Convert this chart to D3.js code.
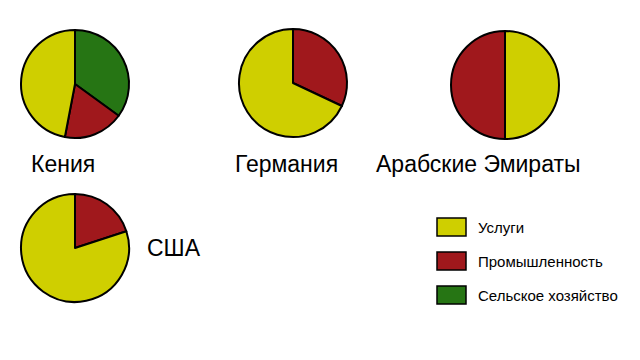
<!DOCTYPE html>
<html>
<head>
<meta charset="utf-8">
<script src="https://cdn.jsdelivr.net/npm/d3@7"></script>
<style>
  body { margin: 0; background: #fff; }
  svg { font-family: "Liberation Sans", Arial, sans-serif; }
</style>
</head>
<body>
<svg width="640" height="360"></svg>
<script>
const countries = ["Кения", "Германия", "Арабские Эмираты", "США"];
const sectors = ["Сельское хозяйство", "Промышленность", "Услуги"];
const agriculture = [35, 0, 0, 0];
const industry = [18, 32, 50, 20];
const services = [47, 68, 50, 80];
const legendOrder = ["Услуги", "Промышленность", "Сельское хозяйство"];

const svg = d3.select("svg");

const radius = 54;

// where each pie sits, its label, and the angle its first slice starts at
const layout = [
    {cx: 75,  cy: 84,  lx: 31,  ly: 172, start: 0},
    {cx: 293, cy: 83,  lx: 235, ly: 172, start: 0},
    {cx: 505, cy: 85,  lx: 376, ly: 172, start: Math.PI},
    {cx: 75,  cy: 248, lx: 147, ly: 256, start: 0}
];

const colorScale = d3.scaleOrdinal()
    .domain(sectors)
    .range(["#267514", "#a0181c", "#cfcf00"]);

const arcGen = d3.arc().innerRadius(0).outerRadius(radius);

countries.forEach((name, i) => {
    const pos = layout[i];
    const values = [agriculture[i], industry[i], services[i]];
    const pie = d3.pie().sort(null)
        .startAngle(pos.start)
        .endAngle(pos.start + 2 * Math.PI);

    const g = svg.append("g")
        .attr("transform", "translate(" + pos.cx + "," + pos.cy + ")");

    g.selectAll("path")
        .data(pie(values).filter(d => d.value > 0))
        .enter().append("path")
        .attr("d", arcGen)
        .attr("fill", d => colorScale(sectors[d.index]))
        .attr("stroke", "#000")
        .attr("stroke-width", 2)
        .attr("stroke-linejoin", "round");

    svg.append("text")
        .attr("x", pos.lx)
        .attr("y", pos.ly)
        .attr("font-size", 23)
        .attr("fill", "#000")
        .text(name);
});

// legend
const legendG = svg.append("g")
    .attr("transform", "translate(437, 218)");

const legendY = d3.scalePoint().domain(legendOrder).range([0, 68]);

legendG.selectAll("rect")
    .data(legendOrder)
    .enter().append("rect")
    .attr("x", 0)
    .attr("y", d => legendY(d))
    .attr("width", 29)
    .attr("height", 18)
    .attr("fill", colorScale)
    .attr("stroke", "#000")
    .attr("stroke-width", 1.5);

legendG.selectAll("text")
    .data(legendOrder)
    .enter().append("text")
    .attr("x", 41)
    .attr("y", d => legendY(d) + 15)
    .attr("font-size", 15)
    .attr("fill", "#000")
    .text(d => d);
</script>
</body>
</html>
